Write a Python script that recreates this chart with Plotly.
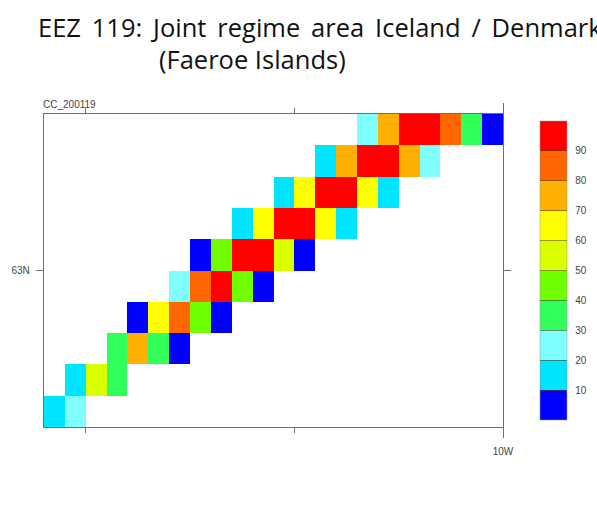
import plotly.graph_objects as go

# cell values (band mid-points), top row first; None = no data
row_0 = [None]*15 + [25, 75, 95, 95, 85, 35, 5]
row_1 = [None]*13 + [15, 75, 95, 95, 75, 25] + [None]*3
row_2 = [None]*11 + [15, 65, 95, 95, 65, 15] + [None]*5
row_3 = [None]*9 + [15, 65, 95, 95, 65, 15] + [None]*7
row_4 = [None]*7 + [5, 45, 95, 95, 55, 5] + [None]*9
row_5 = [None]*6 + [25, 85, 95, 45, 5] + [None]*11
row_6 = [None]*4 + [5, 65, 85, 45, 5] + [None]*13
row_7 = [None]*3 + [35, 75, 35, 5] + [None]*15
row_8 = [None]*1 + [15, 55, 35] + [None]*18
row_9 = [15, 25] + [None]*20
rows = [row_0, row_1, row_2, row_3, row_4, row_5, row_6, row_7, row_8, row_9]

lons = [-15.375 + 0.25*i for i in range(22)]
lats = [63.5625 - 0.125*i for i in range(10)]

band_colors = ["#0000ff", "#00e5ff", "#7fffff", "#33ff5a", "#6fff00",
               "#d9ff00", "#ffff00", "#ffb000", "#ff6600", "#ff0000"]
cbar_ticks = [10, 20, 30, 40, 50, 60, 70, 80, 90]

W, H = 597, 513
L, R, T, B = 44, 503, 114, 427
axis_col = "#707070"
small = dict(family="Liberation Sans", size=10, color="#444444")

cs = []
n = len(band_colors)
for i, c in enumerate(band_colors):
    cs += [[i/n, c], [(i+1)/n, c]]

fig = go.Figure(go.Heatmap(
    z=rows, x=lons, y=lats, zmin=0, zmax=100, colorscale=cs, hoverongaps=False,
    xgap=0, ygap=0,
    colorbar=dict(
        thickness=27, thicknessmode="pixels", len=299, lenmode="pixels",
        x=(540-L)/(R-L), xanchor="left", xpad=0,
        y=(B-270.5)/(B-T), yanchor="middle", ypad=0,
        tickvals=cbar_ticks, ticktext=["\u00a0\u00a0" + str(v) for v in cbar_ticks],
        ticks="inside", ticklen=27, tickwidth=1, tickcolor="rgba(70,60,0,0.55)",
        tickfont=small, outlinewidth=0.5, outlinecolor="#999999",
    ),
))

fig.update_xaxes(
    range=[-15.5, -10], tickmode="array", tickvals=[-10], ticktext=["10W"],
    ticks="outside", ticklen=10, tickwidth=1, tickcolor=axis_col, ticklabelstandoff=5,
    minor=dict(tickmode="array", tickvals=[-15, -12.5], ticks="outside", ticklen=5,
               tickwidth=1, tickcolor=axis_col),
    showline=True, linecolor=axis_col, linewidth=1.4, mirror="ticks",
    showgrid=False, zeroline=False, tickfont=small,
)
fig.update_yaxes(
    range=[62.375, 63.625], tickmode="array", tickvals=[63], ticktext=["63N"],
    ticks="outside", ticklen=7, tickwidth=1, tickcolor=axis_col, ticklabelstandoff=4,
    showline=True, linecolor=axis_col, linewidth=1.4, mirror="ticks",
    showgrid=False, zeroline=False, tickfont=small,
)

def px(x): return (x-L)/(R-L)
def py(y): return (B-y)/(B-T)

title_font = dict(family="Open Sans", size=25.5, color="#111111")
gap = "\u00a0\u2009"
title_line = gap.join(["EEZ", "119:", "Joint", "regime", "area", "Iceland", "/", "Denmark"])
fig.update_layout(
    width=W, height=H, margin=dict(l=L, r=W-R, t=T, b=H-B, pad=0, autoexpand=False),
    paper_bgcolor="white", plot_bgcolor="white",
    annotations=[
        dict(text=title_line,
             xref="paper", yref="paper", x=px(36), y=py(27), xanchor="left", yanchor="middle",
             showarrow=False, font=title_font),
        dict(text="(Faeroe Islands)", xref="paper", yref="paper", x=px(157), y=py(59),
             xanchor="left", yanchor="middle", showarrow=False, font=title_font),
        dict(text="CC_200119", xref="paper", yref="paper", x=px(41), y=py(105),
             xanchor="left", yanchor="middle", showarrow=False, font=small),
    ],
)
fig.write_html("out.html", config={"displayModeBar": False},
               post_script="document.body.style.margin='0';")
